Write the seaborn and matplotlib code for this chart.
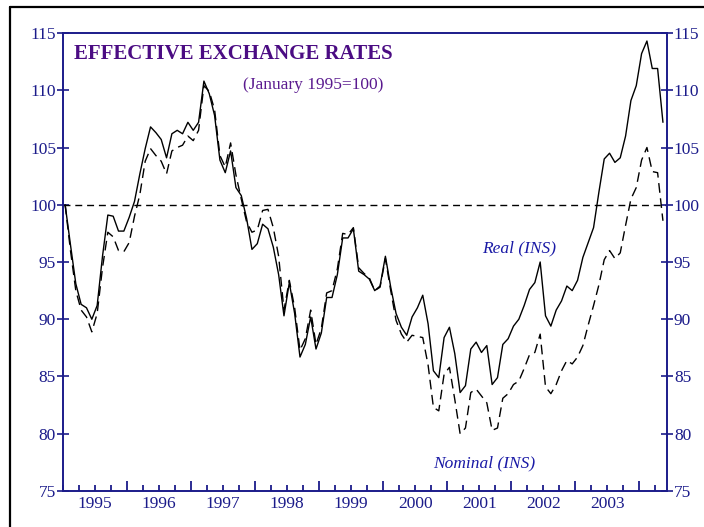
import numpy as np
import pandas as pd
import matplotlib.pyplot as plt
import matplotlib.ticker as ticker
import matplotlib.transforms as mtransforms
from matplotlib.lines import Line2D
import seaborn as sns

# Indices mensuales (enero 1995 = 100), enero 1995 - mayo 2004
real = [
    100.0, 96.5, 93.1, 91.3, 91.0, 90.0, 91.2, 95.5, 99.1, 99.0,
    97.7, 97.7, 98.9, 100.3, 102.7, 104.9, 106.8, 106.3, 105.7, 104.1,
    106.2, 106.5, 106.2, 107.2, 106.5, 107.2, 110.8, 109.7, 107.8, 103.9,
    102.8, 104.7, 101.5, 100.8, 98.8, 96.1, 96.6, 98.3, 97.9, 96.3,
    93.9, 90.3, 93.2, 90.5, 86.7, 87.8, 90.2, 87.4, 88.8, 91.9,
    91.9, 93.9, 97.1, 97.1, 97.9, 94.2, 93.9, 93.5, 92.5, 92.9,
    95.5, 92.8, 90.5, 89.3, 88.6, 90.2, 91.0, 92.1, 89.6, 85.5,
    84.9, 88.4, 89.3, 87.0, 83.6, 84.2, 87.4, 88.0, 87.1, 87.7,
    84.3, 84.9, 87.8, 88.3, 89.4, 90.0, 91.2, 92.6, 93.2, 95.0,
    90.3, 89.4, 90.8, 91.6, 92.9, 92.5, 93.4, 95.4, 96.7, 98.0,
    101.1, 104.0, 104.5, 103.7, 104.1, 106.0, 109.1, 110.4, 113.2, 114.3,
    111.9, 111.9, 107.2,
]
nominal = [
    100.0, 96.0, 92.5, 90.8, 90.2, 88.9, 90.5, 94.5, 97.6, 97.2,
    96.0, 95.9, 96.7, 99.0, 100.9, 103.8, 104.9, 104.3, 103.8, 102.7,
    104.7, 105.0, 105.2, 106.0, 105.6, 106.5, 110.4, 109.9, 108.3, 104.3,
    103.3, 105.4, 102.6, 100.5, 98.5, 97.6, 97.8, 99.5, 99.6, 98.0,
    95.5, 90.8, 93.4, 91.0, 87.3, 88.3, 90.8, 87.8, 89.2, 92.3,
    92.5, 94.4, 97.5, 97.4, 98.0, 94.5, 94.0, 93.6, 92.5, 92.8,
    95.3, 92.5, 89.9, 88.7, 88.0, 88.6, 88.5, 88.4, 86.0, 82.3,
    82.0, 85.2, 85.8, 83.0, 80.0, 80.5, 83.6, 83.9, 83.3, 82.7,
    80.3, 80.5, 83.1, 83.5, 84.3, 84.6, 85.7, 86.9, 87.1, 88.7,
    84.1, 83.5, 84.3, 85.5, 86.4, 86.1, 86.7, 87.7, 89.5, 91.2,
    93.0, 95.2, 96.0, 95.3, 95.8, 98.2, 100.5, 101.5, 103.9, 105.0,
    102.9, 102.8, 98.6,
]
anios = list(range(1995, 2004))
linea_base = 100

sns.set_style('white')
plt.rcParams['font.family'] = ['Liberation Serif', 'DejaVu Serif']

azul = '#1b1b8a'
morado = '#4b0c83'

n = len(real)
fechas = 1995 + (np.arange(n) + 0.4) / 12
df = pd.DataFrame({
    'fecha': np.concatenate([fechas, fechas]),
    'indice': real + nominal,
    'serie': ['Real'] * n + ['Nominal'] * n,
})

fig = plt.figure(figsize=(7.04, 5.27), dpi=100)
ax = fig.add_axes([63 / 704, 1 - 491 / 527, 604 / 704, 458 / 527])

sns.lineplot(data=df, x='fecha', y='indice', style='serie',
             dashes={'Real': '', 'Nominal': (7, 4)},
             color='black', lw=1.0, ax=ax, legend=False)
ax.axhline(linea_base, color='black', lw=1.0, ls=(0, (5, 3.5)))

ax.set_xlim(1995, 2004.43)
ax.set_ylim(75, 115)
ax.set_xlabel('')
ax.set_ylabel('')

# Ejes y marcas
for lado in ['left', 'right', 'top', 'bottom']:
    ax.spines[lado].set_color(azul)
    ax.spines[lado].set_linewidth(1.4)

ax.set_yticks(range(75, 116, 5))
ax.tick_params(axis='y', direction='inout', length=8, width=1.2, color=azul,
               labelcolor=azul, labelsize=12.5, left=True, right=True,
               labelleft=True, labelright=True, pad=1)

# marcas largas en cada año, cortas en cada trimestre
ax.xaxis.set_major_locator(ticker.FixedLocator(range(1996, 2005)))
ax.xaxis.set_minor_locator(ticker.MultipleLocator(0.25))
ax.xaxis.set_major_formatter(ticker.NullFormatter())
ax.tick_params(axis='x', which='major', direction='in', length=7, width=1.3,
               color=azul, bottom=True, top=False)
ax.tick_params(axis='x', which='minor', direction='in', length=4.5, width=1.3,
               color=azul, bottom=True, top=False)
ax.tick_params(axis='y', which='minor', left=False, right=False)

trans = mtransforms.blended_transform_factory(ax.transData, ax.transAxes)
for anio in anios:
    ax.text(anio + 0.5, -0.012, str(anio), transform=trans, ha='center',
            va='top', fontsize=12.5, color=azul)

# Textos
ax.text(0.018, 0.943, 'EFFECTIVE EXCHANGE RATES', transform=ax.transAxes,
        fontsize=15, fontweight='bold', color=morado, va='baseline')
ax.text(0.531, 0.878, '(January 1995=100)', transform=ax.transAxes,
        fontsize=12.5, color='#5a1a8f', ha='right', va='baseline')
ax.text(0.694, 0.522, 'Real (INS)', transform=ax.transAxes, fontsize=12.5,
        style='italic', color='#1a1aa6', va='baseline')
ax.text(0.613, 0.052, 'Nominal (INS)', transform=ax.transAxes, fontsize=12.5,
        style='italic', color='#1a1aa6', va='baseline')

# Marco negro de la figura
fig.add_artist(Line2D([9.5 / 704, 9.5 / 704], [0, 1 - 6.5 / 527],
                      transform=fig.transFigure, color='black', lw=1.6))
fig.add_artist(Line2D([9.5 / 704, 1], [1 - 6.5 / 527, 1 - 6.5 / 527],
                      transform=fig.transFigure, color='black', lw=1.6))

fig.savefig('out.png', dpi=100)
